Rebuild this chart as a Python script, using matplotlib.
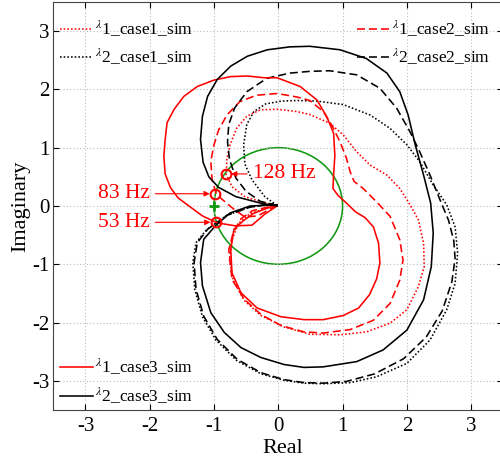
import matplotlib
matplotlib.use('Agg')
import matplotlib.pyplot as plt
from matplotlib.patches import Circle

plt.rcParams['font.family'] = ['Liberation Serif', 'DejaVu Serif']
plt.rcParams['mathtext.fontset'] = 'stix'
plt.rcParams['axes.unicode_minus'] = False

# ---- eigenvalue loci (real / imaginary parts) ----
# lambda1, case1 (red dotted)
l1_case1_re = [-0.02, -0.26, -0.52, -0.72, -0.81, -0.80, -0.75, -0.65, -0.49, -0.28, -0.02, 0.29, 0.49,
               0.80, 1.01, 1.22, 1.43, 1.69, 1.89, 2.05, 2.18, 2.26, 2.27, 2.18, 2.00, 1.74, 1.37, 0.96,
               0.49, 0.10, -0.27, -0.53, -0.70, -0.76, -0.72, -0.62, -0.44, -0.13, -0.02]
l1_case1_im = [0.01, 0.07, 0.16, 0.33, 0.54, 0.80, 1.05, 1.33, 1.54, 1.65, 1.66, 1.62, 1.57,
               1.42, 1.22, 0.93, 0.70, 0.53, 0.30, 0.02, -0.24, -0.64, -1.04, -1.38, -1.78, -2.01, -2.16, -2.21,
               -2.20, -2.08, -1.88, -1.62, -1.28, -0.93, -0.58, -0.30, -0.13, -0.02, 0.00]

# lambda2, case1 (black dotted)
l2_case1_re = [-0.02, -0.21, -0.41, -0.52, -0.54, -0.49, -0.38, -0.20, 0.05, 0.30, 0.60, 1.01, 1.43,
               1.74, 2.00, 2.20, 2.41, 2.62, 2.75, 2.79, 2.75, 2.62, 2.36, 2.00, 1.53, 1.12, 0.70, 0.40,
               0.09, -0.27, -0.65, -0.97, -1.18, -1.30, -1.33, -1.28, -1.11, -0.80, -0.44, -0.08]
l2_case1_im = [0.01, 0.16, 0.45, 0.72, 1.05, 1.40, 1.62, 1.75, 1.80, 1.81, 1.80, 1.74, 1.56,
               1.33, 1.05, 0.76, 0.36, 0.02, -0.36, -0.81, -1.33, -1.78, -2.30, -2.70, -2.93, -3.03, -3.05, -3.04,
               -2.99, -2.88, -2.65, -2.30, -1.90, -1.43, -0.97, -0.63, -0.40, -0.16, -0.02, 0.04]

# lambda1, case2 (red dashed)
l1_case2_re = [-0.02, -0.32, -0.52, -0.72, -0.88, -0.97, -1.03, -1.05, -1.00, -0.93, -0.80, -0.60, -0.34,
               -0.02, 0.29, 0.49, 0.70, 0.83, 0.96, 1.06, 1.12, 1.18, 1.32, 1.53, 1.74, 1.89, 1.94, 1.89,
               1.74, 1.48, 1.12, 0.70, 0.40, 0.04, -0.27, -0.53, -0.72, -0.77, -0.70, -0.58, -0.40, -0.13,
               -0.02]
l1_case2_im = [0.01, -0.17, -0.19, -0.03, 0.12, 0.22, 0.45, 0.77, 1.05, 1.30, 1.56, 1.79, 1.90,
               1.93, 1.87, 1.81, 1.62, 1.39, 1.10, 0.82, 0.58, 0.42, 0.30, 0.07, -0.18, -0.58, -0.93, -1.27,
               -1.67, -1.96, -2.12, -2.18, -2.16, -2.05, -1.86, -1.60, -1.26, -0.75, -0.45, -0.22, -0.08, -0.01,
               0.00]

# lambda2, case2 (black dashed)
l2_case2_re = [-0.02, -0.28, -0.50, -0.66, -0.76, -0.79, -0.77, -0.68, -0.49, -0.18, 0.18, 0.49, 0.80,
               1.22, 1.58, 1.84, 2.05, 2.20, 2.36, 2.51, 2.65, 2.73, 2.75, 2.70, 2.55, 2.30, 1.95, 1.50,
               1.06, 0.70, 0.40, 0.09, -0.27, -0.64, -0.95, -1.16, -1.28, -1.31, -1.26, -1.10, -0.80, -0.44,
               -0.08]
l2_case2_im = [0.01, 0.08, 0.25, 0.48, 0.80, 1.10, 1.40, 1.68, 1.96, 2.19, 2.28, 2.31, 2.32,
               2.25, 2.02, 1.68, 1.27, 0.93, 0.53, 0.12, -0.25, -0.60, -0.90, -1.30, -1.80, -2.25, -2.62, -2.88,
               -3.01, -3.04, -3.03, -2.98, -2.86, -2.63, -2.29, -1.89, -1.43, -0.97, -0.63, -0.40, -0.16, -0.02,
               0.04]

# lambda1, case3 (red solid)
l1_case3_re = [-0.02, -0.21, -0.41, -0.67, -0.95, -1.18, -1.39, -1.56, -1.68, -1.76, -1.78, -1.76, -1.73,
               -1.62, -1.47, -1.26, -1.00, -0.74, -0.48, -0.22, -0.02, 0.34, 0.60, 0.75, 0.86, 0.88, 0.86,
               0.85, 0.93, 1.06, 1.20, 1.35, 1.48, 1.56, 1.58, 1.53, 1.42, 1.25, 1.01, 0.70, 0.40, 0.04,
               -0.33, -0.58, -0.72, -0.74, -0.69, -0.54, -0.39, -0.18, -0.02]
l1_case3_im = [0.00, -0.14, -0.33, -0.34, -0.29, -0.17, 0.00, 0.14, 0.32, 0.55, 0.85, 1.14, 1.43,
               1.66, 1.88, 2.05, 2.16, 2.22, 2.23, 2.20, 2.20, 2.05, 1.82, 1.54, 1.25, 0.87, 0.53,
               0.30, 0.18, 0.05, -0.10, -0.20, -0.36, -0.64, -0.98, -1.25, -1.52, -1.75, -1.88, -1.95, -1.95, -1.90,
               -1.75, -1.49, -1.15, -0.75, -0.40, -0.25, -0.13, -0.04, 0.02]

# lambda2, case3 (black solid)
l2_case3_re = [-0.02, -0.28, -0.66, -0.93, -1.08, -1.17, -1.21, -1.18, -1.10, -0.95, -0.74, -0.48, -0.17,
               0.18, 0.49, 0.96, 1.37, 1.69, 1.89, 2.02, 2.13, 2.26, 2.37, 2.41, 2.38, 2.26, 2.00, 1.63,
               1.22, 0.70, 0.40, 0.09, -0.27, -0.58, -0.84, -1.05, -1.18, -1.21, -1.16, -0.97, -0.75, -0.44,
               -0.02]
l2_case3_im = [0.00, 0.05, 0.16, 0.32, 0.50, 0.75, 1.14, 1.54, 1.88, 2.17, 2.40, 2.57, 2.68,
               2.73, 2.74, 2.68, 2.53, 2.28, 1.96, 1.56, 1.05, 0.53, 0.05, -0.46, -1.04, -1.61, -2.13, -2.47,
               -2.67, -2.76, -2.77, -2.72, -2.60, -2.43, -2.17, -1.83, -1.37, -0.97, -0.57, -0.33, -0.12, 0.00,
               0.02]

# crossing points with the unit circle
freq_labels = ['128 Hz', '83 Hz', '53 Hz']
freq_re = [-0.82, -0.98, -0.97]
freq_im = [0.55, 0.21, -0.28]
critical_point = (-1, 0)
unit_radius = 1.0

ticks = [-3, -2, -1, 0, 1, 2, 3]

fig = plt.figure(figsize=(5.0, 4.62), dpi=100)
ax = fig.add_axes([0.1066, 0.1126, 0.900, 0.8831])

lw = 1.15
dots = (0, (1, 1.3))
dashes = (0, (5, 2.5))
h1, = ax.plot(l1_case1_re, l1_case1_im, color='red', lw=lw, linestyle=dots)
h2, = ax.plot(l2_case1_re, l2_case1_im, color='black', lw=lw, linestyle=dots)
h3, = ax.plot(l1_case2_re, l1_case2_im, color='red', lw=lw, linestyle=dashes)
h4, = ax.plot(l2_case2_re, l2_case2_im, color='black', lw=lw, linestyle=dashes)
h5, = ax.plot(l1_case3_re, l1_case3_im, color='red', lw=lw)
h6, = ax.plot(l2_case3_re, l2_case3_im, color='black', lw=lw)

ax.add_patch(Circle((0, 0), unit_radius, fill=False, edgecolor='#119911', lw=lw))
ax.plot(*critical_point, marker='+', color='#119911', markersize=7, mew=2)
ax.plot(freq_re, freq_im, 'o', mfc='none', mec='red', markersize=7, mew=1.5)

# frequency annotations
arrow = dict(arrowstyle='-|>', color='red', lw=0.8, mutation_scale=8, shrinkA=2, shrinkB=4)
ax.annotate(freq_labels[0], xy=(freq_re[0], freq_im[0]), xytext=(-0.40, freq_im[0]),
            ha='left', va='center', color='red', fontsize=15.5, arrowprops=arrow)
ax.annotate(freq_labels[1], xy=(freq_re[1], freq_im[1]), xytext=(-2.0, freq_im[1]),
            ha='right', va='center', color='red', fontsize=15.5, arrowprops=arrow)
ax.annotate(freq_labels[2], xy=(freq_re[2], freq_im[2]), xytext=(-2.0, freq_im[2]),
            ha='right', va='center', color='red', fontsize=15.5, arrowprops=arrow)

ax.set_xlim(-3.5, 3.5)
ax.set_ylim(-3.5, 3.5)
ax.set_xticks(ticks)
ax.set_yticks(ticks)
ax.grid(True, color='#bbbbbb', linestyle=(0, (1, 2)), lw=0.8)
ax.tick_params(direction='in', top=True, right=True, labelsize=15, length=4)
ax.tick_params(axis='x', pad=5)
ax.tick_params(axis='y', pad=3)
for s in ax.spines.values():
    s.set_color('#444444')

ax.set_xlabel('Real', fontsize=16)
ax.set_ylabel('Imaginary', fontsize=16)
ax.xaxis.set_label_coords(0.51, -0.072)
ax.yaxis.set_label_coords(-0.052, 0.5)

leg_kw = dict(frameon=False, fontsize=12.5, handlelength=1.9, handletextpad=0.1,
              labelspacing=0.45, borderpad=0, borderaxespad=0)
leg1 = ax.legend([h1, h2], [r'$^{\lambda}$1_case1_sim', r'$^{\lambda}$2_case1_sim'],
                 loc='upper left', bbox_to_anchor=(0.015, 0.96), **leg_kw)
ax.add_artist(leg1)
leg2 = ax.legend([h3, h4], [r'$^{\lambda}$1_case2_sim', r'$^{\lambda}$2_case2_sim'],
                 loc='upper left', bbox_to_anchor=(0.675, 0.96), **leg_kw)
ax.add_artist(leg2)
ax.legend([h5, h6], [r'$^{\lambda}$1_case3_sim', r'$^{\lambda}$2_case3_sim'],
          loc='lower left', bbox_to_anchor=(0.015, 0.01), **leg_kw)

fig.savefig('out.png', dpi=100)
